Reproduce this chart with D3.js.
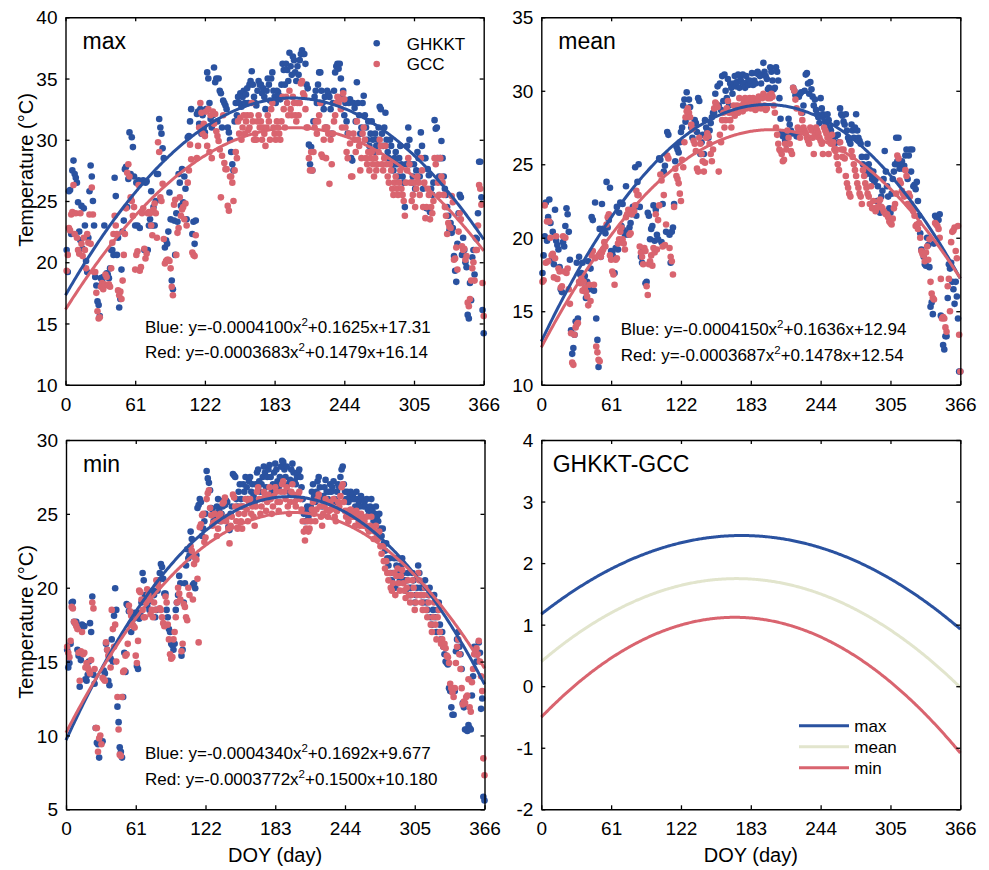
<!DOCTYPE html>
<html><head><meta charset="utf-8">
<script src="https://cdn.jsdelivr.net/npm/d3@7"></script>
<style>
body{margin:0;background:#fff}
svg{display:block}
text{font-family:"Liberation Sans",Arial,Helvetica,sans-serif;fill:#000}
</style>
</head><body>
<svg id="chart" width="989" height="870"></svg>
<script>
// ---------------- DATA ----------------
const days = d3.range(1, 367);
const xTicks = [0, 61, 122, 183, 244, 305, 366];
const yTicksMax = [10, 15, 20, 25, 30, 35, 40];
const yTicksMean = [10, 15, 20, 25, 30, 35];
const yTicksMin = [5, 10, 15, 20, 25, 30];
const yTicksDiff = [-2, -1, 0, 1, 2, 3, 4];
const seriesNames = ["GHKKT", "GCC"];
const diffNames = ["max", "mean", "min"];

const maxGHKKT = [
21.0,19.2,25.8,25.9,22.3,27.5,28.3,27.2,26.9,26.5,
24.9,22.5,21.8,24.6,21.1,24.4,23.0,20.1,19.2,22.0,
25.8,27.9,27.0,25.0,23.0,18.8,18.1,16.8,16.5,15.6,
18.7,18.5,18.8,23.0,18.9,19.1,19.0,18.7,19.5,21.0,
21.0,20.6,26.9,25.4,20.6,22.0,16.3,17.0,19.4,22.5,
23.4,27.6,27.8,24.5,26.8,30.6,27.2,30.2,29.4,27.0,
23.0,26.5,23.0,26.7,22.8,26.5,26.6,26.7,21.0,26.5,
26.6,21.0,23.0,23.5,25.8,23.0,24.5,23.0,25.0,27.2,
27.2,31.7,31.0,30.5,29.3,28.5,21.2,21.8,21.5,22.5,
25.7,23.5,18.5,17.8,23.4,20.6,24.0,23.3,27.2,26.5,
24.6,27.6,24.9,27.0,26.0,23.5,30.2,30.3,31.5,32.5,
22.3,23.3,21.5,23.4,32.1,32.3,31.3,32.5,30.5,32.0,
31.0,30.6,32.5,35.5,35.0,33.0,31.7,31.0,32.0,35.9,
34.7,35.0,31.5,35.0,34.0,33.8,31.0,33.2,33.0,32.8,
32.5,31.0,30.6,30.0,29.0,28.0,27.5,31.5,33.0,32.0,
33.5,33.0,33.8,32.7,33.5,34.0,33.0,33.7,34.2,33.0,
34.5,34.8,35.6,34.5,33.5,33.0,32.8,34.0,34.8,34.5,
34.5,33.8,34.2,33.5,32.5,34.0,35.0,34.5,33.2,35.0,
35.5,34.0,33.5,33.0,34.0,33.9,33.6,33.3,34.5,36.2,
35.7,34.5,36.2,35.7,34.8,37.1,36.0,35.3,36.8,36.5,
35.5,34.8,36.0,35.3,36.5,37.0,37.3,37.0,37.0,36.2,
34.5,34.2,29.6,28.0,29.4,27.5,31.5,33.5,34.0,33.0,
34.5,35.5,35.5,34.0,33.0,32.5,33.5,31.0,34.0,33.8,
33.5,32.5,30.5,33.0,34.0,35.5,36.0,36.2,35.8,36.2,
35.0,33.5,34.0,32.0,33.0,31.5,30.5,33.0,33.3,28.5,
28.3,33.0,32.6,31.5,34.7,33.0,32.0,30.5,31.0,33.0,
33.6,32.0,31.0,30.0,31.5,29.5,30.5,31.5,30.0,29.0,
30.5,29.5,30.0,31.0,32.7,32.5,30.5,29.5,31.0,32.2,
30.0,29.0,28.5,30.0,29.5,28.0,27.5,28.5,29.0,28.0,
27.0,28.5,29.5,28.0,27.0,26.5,24.5,28.0,29.5,31.0,
30.0,28.0,26.5,27.0,28.0,26.0,27.5,29.0,28.5,27.0,
30.6,29.5,26.0,28.5,28.5,24.4,27.6,27.1,24.1,26.0,
25.5,26.5,31.6,30.9,31.0,28.5,27.0,28.5,29.9,28.5,
27.0,26.0,25.5,24.5,23.8,22.6,23.2,22.4,22.8,20.5,
19.3,18.4,21.5,24.0,25.5,25.3,20.6,22.0,21.0,20.0,
19.6,15.7,15.4,18.3,16.9,20.4,21.0,19.0,22.0,21.9,
24.0,28.2,28.2,25.3,16.1,14.2];

const maxGCC = [
19.3,20.6,22.8,22.6,23.9,24.1,26.3,22.3,24.0,22.0,
21.0,20.7,24.0,21.5,20.5,22.0,21.0,19.5,22.3,21.6,
23.9,21.5,26.1,23.9,19.2,19.2,17.5,16.0,15.4,15.5,
18.0,18.3,17.8,18.2,19.0,18.8,18.1,18.2,18.0,19.5,
21.6,22.3,23.8,23.0,22.3,17.7,17.3,17.6,17.0,18.5,
20.6,22.3,24.4,27.3,28.0,27.0,25.3,25.0,23.8,24.5,
19.4,20.6,20.9,26.3,19.3,19.6,24.0,24.4,21.1,20.3,
20.7,24.0,24.1,24.0,23.0,22.2,24.3,24.8,24.0,22.0,
29.8,29.0,25.3,25.0,26.4,21.9,19.9,20.1,20.2,20.2,
20.1,19.5,18.0,17.3,24.7,25.1,20.6,22.4,22.8,25.3,
23.8,24.3,24.5,23.5,24.8,23.0,26.5,27.5,29.6,28.4,
20.8,20.6,20.5,22.2,28.5,29.5,31.0,33.0,32.2,30.5,
31.3,30.3,32.3,29.5,32.5,29.0,32.0,28.5,32.3,31.3,
32.1,30.7,30.3,29.9,29.2,25.3,28.7,32.0,28.1,27.6,
27.6,24.6,24.2,27.0,27.0,26.5,25.0,27.5,29.0,28.5,
31.5,30.5,31.8,30.0,31.0,32.0,30.5,31.5,32.0,30.8,
31.0,32.0,33.0,31.5,30.0,30.5,30.0,31.5,32.0,31.0,
31.5,30.0,31.0,30.5,29.5,31.0,32.0,31.5,30.0,32.5,
33.0,31.0,30.5,30.0,31.5,31.0,30.5,30.0,31.5,33.5,
32.5,31.0,33.5,33.0,32.0,34.0,32.5,32.0,33.5,33.0,
32.0,31.5,33.0,32.0,33.0,34.6,34.8,33.8,33.6,32.5,
31.0,31.0,28.5,27.5,29.0,27.5,29.0,31.0,31.5,30.5,
31.5,32.0,33.0,28.8,28.6,30.0,31.0,28.5,31.0,30.5,
26.4,30.0,28.0,30.5,31.5,32.0,33.0,33.5,33.0,33.3,
32.5,31.0,33.8,33.3,31.0,29.0,28.5,30.5,29.7,27.0,
27.0,30.5,30.0,29.0,31.5,30.0,29.5,27.5,28.5,30.5,
31.0,30.0,28.5,28.0,29.0,27.5,28.5,29.0,28.0,27.0,
28.5,27.5,28.0,29.0,30.0,29.5,28.0,27.5,28.5,29.5,
28.0,27.0,26.5,28.0,27.5,26.0,25.5,26.5,27.0,26.0,
25.5,26.5,27.5,26.0,25.5,25.0,23.8,26.5,27.5,28.5,
28.0,26.5,25.0,25.5,26.5,24.5,26.0,27.0,26.5,25.5,
28.5,27.5,24.5,26.5,23.6,24.5,26.0,25.5,23.5,24.5,
24.0,25.0,28.5,28.0,28.5,26.5,25.5,28.5,27.0,26.5,
25.5,24.5,23.8,22.3,23.2,22.9,22.8,25.4,24.9,20.2,
20.3,21.2,19.4,22.5,24.0,23.5,21.3,21.0,21.1,20.2,
20.5,16.7,16.4,17.0,18.5,19.5,20.0,18.5,21.0,21.0,
23.0,26.3,26.0,24.7,18.3,15.6];

const meanGHKKT = [
17.6,18.8,20.1,22.4,19.8,21.4,22.6,21.0,18.5,20.4,
18.2,21.9,19.8,19.5,19.2,18.0,16.5,16.3,19.7,19.4,
20.8,22.0,21.6,20.4,18.5,13.7,12.1,12.5,13.4,14.3,
18.3,14.5,18.7,17.5,17.6,18.3,17.2,17.4,15.9,17.0,
18.4,16.5,17.9,21.4,21.2,16.4,22.4,14.5,13.05,11.2,
20.6,18.7,22.3,20.6,20.6,20.3,23.8,20.7,21.2,23.4,
19.1,19.0,18.7,17.6,19.3,22.1,19.2,21.7,22.4,20.8,
22.3,20.5,20.2,23.5,20.3,20.2,20.7,21.0,21.6,22.1,
21.9,24.8,21.5,23.8,25.0,22.1,18.7,18.3,19.2,19.1,
16.9,17.0,21.7,21.5,19.9,20.6,20.8,22.2,19.8,21.9,
20.2,19.9,25.4,25.3,19.7,22.3,24.5,24.9,20.4,27.2,
27.0,20.2,18.3,20.4,20.7,22.3,25.2,26.2,26.0,25.8,
26.5,27.2,27.5,29.0,29.4,27.9,29.9,28.2,29.4,28.9,
27.5,26.8,27.4,28.0,27.8,27.2,29.5,29.3,25.7,26.5,
27.0,25.7,28.0,27.5,27.2,26.8,27.3,27.8,28.2,28.5,
28.5,29.8,28.9,30.3,29.0,30.5,28.7,31.0,29.3,31.1,
30.0,29.5,30.8,29.0,30.5,30.2,29.8,30.5,31.0,30.3,
30.6,31.1,30.2,30.8,30.6,31.1,30.5,30.2,31.0,30.6,
30.4,30.7,30.5,31.2,30.4,30.7,30.5,31.2,31.3,31.1,
31.0,30.5,31.1,31.9,31.3,31.0,30.8,30.1,30.2,31.6,
31.3,30.7,30.1,30.2,31.6,31.3,30.7,29.5,28.1,27.1,
26.9,27.1,26.6,26.4,26.9,28.1,27.7,27.3,27.1,30.2,
30.0,29.7,26.9,27.1,29.6,29.8,29.9,28.5,29.0,30.0,
31.1,31.2,30.5,29.8,30.6,30.1,29.6,29.0,29.4,28.7,
28.4,28.2,27.8,29.5,28.8,28.4,28.3,27.9,27.7,28.4,
28.0,27.5,27.3,26.8,26.6,26.4,26.9,27.8,27.0,26.5,
28.8,28.4,28.3,27.9,27.7,28.4,27.3,26.8,26.6,26.4,
27.7,27.3,26.8,27.5,28.4,27.3,26.8,26.6,26.4,25.5,
25.0,24.6,24.3,25.5,26.4,25.0,24.6,24.3,24.0,24.5,
23.8,24.0,22.5,23.5,22.5,21.7,22.8,23.2,24.0,25.9,
24.5,23.5,22.8,22.0,21.7,23.0,24.0,24.5,25.0,26.8,
25.2,26.8,24.7,24.9,25.2,24.7,24.9,25.6,26.0,24.0,
25.6,26.0,24.5,26.0,23.5,23.6,23.3,23.8,22.5,21.5,
20.3,19.2,19.0,18.7,18.2,18.1,20.0,19.5,18.0,15.3,
15.6,14.8,19.6,21.5,21.4,21.3,21.2,21.6,14.7,14.6,
12.7,12.4,13.3,13.3,15.9,18.2,17.9,18.3,17.0,16.5,
15.5,17.0,16.0,14.5,10.9,10.9];

const meanGCC = [
17.0,17.1,22.2,18.3,21.1,18.4,21.1,20.0,18.8,18.9,
17.3,18.6,20.1,17.2,17.9,17.7,16.6,16.7,20.1,17.7,
20.0,17.6,17.9,16.5,15.5,13.5,11.5,11.35,13.4,13.9,
14.1,14.2,17.0,16.9,17.2,16.4,17.0,16.6,16.3,16.0,
15.4,16.8,15.7,18.8,19.1,16.8,18.6,12.6,12.2,11.7,
11.6,18.7,19.0,19.2,19.7,19.4,20.9,21.4,21.6,18.8,
18.5,17.7,17.5,16.8,18.5,18.6,19.6,19.9,20.4,20.7,
19.9,19.6,19.2,21.4,21.6,21.9,20.2,20.3,21.6,21.9,
21.8,22.2,23.2,22.9,22.9,19.4,19.0,18.7,18.2,19.3,
19.1,16.7,16.1,18.2,18.4,18.8,18.1,19.3,19.0,21.6,
19.2,21.2,22.2,24.3,23.9,19.4,22.9,19.5,20.9,25.6,
25.4,19.3,18.7,18.4,17.5,22.1,24.7,24.2,24.0,23.7,
23.0,22.5,25.3,24.8,26.5,28.2,28.6,28.8,28.5,28.2,
27.7,27.4,26.6,26.4,25.9,24.7,24.5,26.8,26.4,25.7,
25.2,24.5,25.1,26.8,27.1,26.9,26.4,25.7,25.2,26.0,
28.8,29.2,29.1,28.9,24.5,27.0,26.5,28.0,28.5,27.5,
28.0,28.8,29.3,28.5,28.0,27.5,28.5,29.0,28.3,28.7,
29.0,28.5,29.5,28.7,29.0,28.6,29.2,29.5,28.8,29.3,
29.0,29.5,28.8,29.2,29.5,29.0,28.7,28.8,29.3,29.6,
29.0,28.8,29.5,29.8,29.0,28.7,28.8,29.5,29.7,29.5,
29.8,29.6,29.0,28.5,27.5,27.0,26.4,26.0,25.9,25.7,
25.2,25.3,26.4,26.0,27.3,26.8,26.4,25.9,25.7,30.2,
30.0,29.4,28.8,27.5,27.3,26.8,28.5,28.0,27.5,27.3,
27.1,26.8,26.6,26.4,27.5,27.3,26.8,25.7,27.0,27.5,
27.3,27.1,26.8,26.6,26.4,25.7,27.5,27.3,27.1,26.8,
25.7,26.6,26.4,27.0,26.5,26.0,25.9,25.5,25.0,24.6,
26.5,26.0,25.5,26.0,25.4,24.2,23.7,23.4,23.0,22.8,
25.9,25.5,25.0,24.6,24.2,23.7,23.4,23.0,22.8,22.3,
24.6,24.2,23.7,23.4,23.0,22.8,22.3,23.5,22.0,22.5,
22.0,21.8,22.0,22.1,22.5,22.6,22.1,22.0,21.8,21.7,
21.6,21.6,21.4,21.1,21.0,20.9,21.3,22.0,22.3,23.0,
25.6,25.4,23.9,23.7,23.2,23.0,22.8,24.6,24.2,22.3,
23.0,22.8,22.3,22.1,21.8,21.5,20.8,20.9,20.6,21.0,
20.0,19.1,18.9,18.8,18.4,19.0,19.4,18.5,19.9,17.0,
16.2,15.9,15.8,21.0,20.9,20.8,20.6,20.0,17.2,14.5,
14.6,14.5,13.9,13.6,16.7,17.2,15.0,19.7,20.4,20.5,
20.7,19.1,18.6,20.8,13.4,10.9];

const minGHKKT = [
15.8,14.6,14.9,16.2,19.0,19.05,17.7,17.6,17.7,15.8,
15.4,13.3,15.1,17.5,17.4,17.4,13.8,13.7,14.1,15.0,
17.6,17.0,19.4,14.1,13.5,10.5,9.5,9.4,8.5,9.6,
9.5,9.6,14.4,14.2,16.2,15.8,13.7,13.4,15.2,16.5,
15.0,18.1,19.96,18.5,11.95,10.9,9.2,8.9,8.5,12.6,
15.6,14.3,18.9,18.8,18.4,17.5,17.0,17.5,17.9,18.3,
18.0,14.7,14.5,17.9,18.3,19.0,21.0,20.5,19.5,19.0,
18.8,19.2,18.5,19.1,19.5,19.8,19.5,18.0,18.5,19.8,
20.5,21.0,21.6,21.4,20.6,19.6,19.6,18.5,18.0,17.2,
17.0,16.2,16.1,15.8,16.2,18.5,19.0,19.5,20.8,20.3,
15.4,15.8,19.0,20.3,21.5,22.6,22.0,22.2,23.8,23.3,
20.2,20.3,19.96,22.2,25.4,25.6,26.0,25.8,23.5,24.0,
24.5,25.0,27.9,27.4,27.1,26.6,25.4,25.3,24.5,24.8,
25.0,25.5,26.0,25.2,24.5,25.0,25.5,25.9,25.6,25.9,
25.8,24.1,23.9,25.0,25.5,27.7,27.6,27.5,26.0,25.5,
26.5,27.0,26.0,25.5,27.0,26.5,27.5,26.8,26.0,27.2,
27.5,26.5,27.0,26.2,25.8,27.0,27.8,28.0,27.2,26.5,
27.0,27.5,28.2,27.8,26.8,27.5,28.0,28.3,27.5,26.5,
27.0,27.8,28.4,28.0,27.2,26.8,27.5,28.2,28.6,28.5,
28.0,27.5,28.2,27.0,26.5,27.3,28.0,28.4,27.8,27.2,
27.0,27.5,27.8,28.0,27.5,26.8,26.0,25.0,24.5,25.2,
25.5,24.8,25.0,25.5,26.5,27.0,26.2,25.8,26.5,27.2,
27.5,26.8,26.0,25.5,26.2,26.8,27.3,26.5,26.0,26.5,
27.0,26.5,26.8,27.2,26.0,25.8,26.5,27.0,26.8,27.5,
28.0,28.2,27.0,26.5,26.0,26.5,25.8,26.2,26.5,26.0,
26.3,26.0,25.5,26.5,26.0,25.8,25.5,26.2,26.0,25.5,
25.8,25.5,26.0,25.3,25.0,25.5,26.0,25.2,24.5,25.0,
25.5,24.8,24.5,25.0,24.0,23.5,24.0,23.0,22.5,23.0,
22.0,21.5,22.0,21.0,20.5,21.0,22.0,20.0,21.5,22.0,
21.0,20.5,21.5,22.0,21.0,20.5,19.8,20.5,21.0,20.0,
19.5,20.0,21.0,20.5,19.0,19.5,20.0,21.5,21.0,20.0,
19.5,19.0,20.0,20.5,19.0,18.5,19.5,20.0,18.0,17.5,
18.5,19.5,18.0,17.0,18.5,19.0,17.5,16.5,17.0,16.0,
15.5,15.0,14.9,14.8,13.2,13.0,11.9,11.4,11.4,13.0,
15.7,16.5,17.0,16.0,15.5,14.5,12.2,11.9,10.4,10.4,
10.3,10.7,10.5,10.4,12.7,14.0,16.0,15.5,15.0,15.6,
16.3,15.6,11.8,12.5,5.85,5.6];

const minGCC = [
16.0,15.6,15.3,16.4,18.7,18.6,17.7,17.6,17.4,17.2,
15.6,13.7,15.7,17.0,15.5,15.6,14.6,14.9,14.6,14.4,
14.2,15.1,19.0,18.6,14.5,10.5,10.5,8.9,9.8,10.0,
9.4,13.9,13.8,13.7,16.3,15.8,15.4,15.5,14.6,18.5,
17.2,16.0,17.5,15.0,12.6,10.4,8.7,8.6,12.6,14.3,
14.4,15.4,15.5,16.2,18.8,18.4,18.1,17.5,17.4,17.3,
15.4,14.9,16.4,19.8,19.7,19.2,18.5,18.0,18.0,19.0,
19.9,19.5,19.2,18.2,18.5,18.0,19.0,18.5,20.5,20.3,
20.1,18.6,18.5,18.0,17.6,17.4,19.4,19.0,17.5,16.5,
15.5,15.2,15.3,16.5,17.0,18.0,19.0,20.0,19.6,19.2,
15.7,16.2,18.9,18.7,18.0,17.8,20.0,19.5,22.8,22.5,
19.2,21.6,22.0,21.9,20.6,16.3,24.1,24.3,24.9,25.0,
23.1,23.4,26.0,26.4,26.6,25.4,24.9,24.2,24.4,25.0,
24.5,23.5,24.0,24.8,25.0,24.5,25.7,25.8,26.1,24.5,
24.8,24.0,23.0,24.2,24.8,26.3,26.1,25.5,24.5,24.0,
25.0,25.5,24.5,24.0,25.5,25.0,26.0,25.3,24.5,25.8,
26.0,25.0,25.5,24.8,24.2,25.5,26.5,26.8,26.0,25.0,
25.5,26.0,26.5,26.2,25.2,25.8,26.3,26.8,26.0,25.0,
25.5,26.2,26.8,26.5,25.8,25.2,25.8,26.5,27.0,27.2,
26.5,26.0,26.8,25.5,25.0,25.8,26.5,27.0,26.3,25.8,
25.5,26.0,26.3,26.5,26.0,25.3,24.5,23.8,23.2,24.0,
24.5,23.8,24.0,24.5,25.3,25.8,25.0,24.5,25.3,26.0,
26.3,25.5,24.8,24.2,25.0,25.5,26.0,25.3,24.8,25.2,
25.8,25.3,25.5,26.0,24.8,24.5,25.2,25.8,25.5,26.2,
26.8,27.0,25.8,25.2,24.8,25.2,24.5,25.0,25.3,24.8,
25.0,24.8,24.2,25.2,24.8,24.5,24.2,25.0,24.8,24.2,
24.5,24.2,24.8,24.0,23.8,24.2,24.8,24.0,23.3,23.8,
24.2,23.5,23.3,23.8,22.8,22.3,22.8,21.8,21.3,21.8,
21.0,20.5,21.0,20.0,19.8,20.3,21.0,19.5,20.8,21.3,
20.3,19.8,20.8,21.2,20.3,19.8,19.3,20.0,20.5,19.5,
19.0,19.5,20.5,20.0,18.5,19.0,19.5,21.0,20.5,19.5,
19.0,18.5,19.5,20.0,18.5,18.0,19.0,19.5,17.5,17.0,
18.0,19.0,17.5,16.5,18.0,18.5,17.0,16.2,16.5,16.0,
16.2,15.9,15.4,15.3,14.9,13.5,13.2,12.9,12.6,13.2,
14.9,16.0,16.5,15.5,14.5,13.2,12.1,12.3,12.2,12.6,
12.7,13.8,11.9,11.6,13.6,14.5,15.5,15.6,15.9,15.5,
16.4,15.0,14.0,13.0,8.45,7.3];

// fitted quadratic coefficients [a, b, c]  (y = a x^2 + b x + c), as printed in the chart
const fitMaxGHKKT = [-0.0004100, 0.1625, 17.31];
const fitMaxGCC   = [-0.0003683, 0.1479, 16.14];
const fitMeanGHKKT = [-0.0004150, 0.1636, 12.94];
const fitMeanGCC   = [-0.0003687, 0.1478, 12.54];
const fitMinGHKKT = [-0.0004340, 0.1692, 9.677];
const fitMinGCC   = [-0.0003772, 0.1500, 10.180];

const eqMax  = [["Blue: y=-0.0004100x", "+0.1625x+17.31"], ["Red: y=-0.0003683x", "+0.1479x+16.14"]];
const eqMean = [["Blue: y=-0.0004150x", "+0.1636x+12.94"], ["Red: y=-0.0003687x", "+0.1478x+12.54"]];
const eqMin  = [["Blue: y=-0.0004340x", "+0.1692x+9.677"], ["Red: y=-0.0003772x", "+0.1500x+10.180"]];

// ---------------- STYLE ----------------
const BLUE = "#2a52a0", RED = "#d9646f", MEANC = "#e2e5cd";
const curveDays = d3.range(0, 367, 1);
const quad = (c, x) => c[0]*x*x + c[1]*x + c[2];

const svg = d3.select("#chart");

function frame(g, x, y, yTicks) {
  const [x0, x1] = x.range(), [yb, yt] = y.range();
  const ax = [
    g.append("g").attr("transform", `translate(0,${yb})`).call(d3.axisBottom(x).tickValues(xTicks).tickSizeInner(-4).tickSizeOuter(0)),
    g.append("g").attr("transform", `translate(0,${yt})`).call(d3.axisTop(x).tickValues(xTicks).tickSizeInner(-4).tickSizeOuter(0).tickFormat("")),
    g.append("g").attr("transform", `translate(${x0},0)`).call(d3.axisLeft(y).tickValues(yTicks).tickSizeInner(-4).tickSizeOuter(0).tickPadding(8).tickFormat(d => String(d))),
    g.append("g").attr("transform", `translate(${x1},0)`).call(d3.axisRight(y).tickValues(yTicks).tickSizeInner(-4).tickSizeOuter(0).tickFormat(""))
  ];
  ax.forEach(a => {
    a.select(".domain").attr("stroke", "#000").attr("stroke-width", 1.4);
    a.selectAll(".tick line").attr("stroke", "#000").attr("stroke-width", 1.3);
    a.attr("font-family", null).attr("font-size", null);
  });
  ax[0].selectAll("text").attr("y", 26).attr("dy", null).attr("font-size", 19);
  ax[2].selectAll("text").attr("font-size", 19).attr("dy", "0.35em");
}

function scatterPanel(opt) {
  const g = svg.append("g");
  const x = d3.scaleLinear().domain([0, 366]).range([opt.x0, opt.x1]);
  const y = d3.scaleLinear().domain(opt.ydom).range([opt.yBottom, opt.yTop]);
  const cols = [BLUE, RED];
  opt.series.forEach((s, i) => {
    g.append("g").selectAll("circle").data(days).join("circle")
      .attr("cx", d => x(d)).attr("cy", d => y(s[d-1])).attr("r", 3.3)
      .attr("fill", cols[i]);
  });
  opt.fits.forEach((c, i) => {
    g.append("path").datum(curveDays)
      .attr("d", d3.line().x(d => x(d)).y(d => y(quad(c, d))))
      .attr("fill", "none").attr("stroke", cols[i]).attr("stroke-width", 3);
  });
  frame(g, x, y, opt.yticks);
  g.append("text").attr("x", opt.x0 + 17).attr("y", opt.yTop + 32).attr("font-size", 23).text(opt.title);
  opt.eq.forEach((e, i) => {
    const t = g.append("text").attr("x", opt.eqx).attr("y", opt.eqy + i*25.5).attr("font-size", 17);
    t.append("tspan").text(e[0]);
    t.append("tspan").attr("dy", -7).attr("font-size", 11.5).text("2");
    t.append("tspan").attr("dy", 7).attr("font-size", 17).text(e[1]);
  });
  return {g, x, y};
}

const p1 = scatterPanel({series:[maxGHKKT, maxGCC], fits:[fitMaxGHKKT, fitMaxGCC], x0:65.5, x1:483.7, yTop:17.3, yBottom:384.7,
  ydom:[10,40], yticks:yTicksMax, title:"max", eq:eqMax, eqx:145, eqy:332.7});
const p2 = scatterPanel({series:[meanGHKKT, meanGCC], fits:[fitMeanGHKKT, fitMeanGCC], x0:541.3, x1:960.3, yTop:17.3, yBottom:384.7,
  ydom:[10,35], yticks:yTicksMean, title:"mean", eq:eqMean, eqx:620.7, eqy:335});
const p3 = scatterPanel({series:[minGHKKT, minGCC], fits:[fitMinGHKKT, fitMinGCC], x0:66, x1:484.5, yTop:440, yBottom:809.3,
  ydom:[5,30], yticks:yTicksMin, title:"min", eq:eqMin, eqx:145, eqy:759});

// legend in panel 1
[0,1].forEach(i => {
  p1.g.append("circle").attr("cx", 376.7).attr("cy", 43.3 + i*20.7).attr("r", 3.3).attr("fill", [BLUE, RED][i]);
  p1.g.append("text").attr("x", 406.7).attr("y", 49.5 + i*20.7).attr("font-size", 17).text(seriesNames[i]);
});

// panel 4: differences of the fitted curves
{
  const g = svg.append("g");
  const x = d3.scaleLinear().domain([0, 366]).range([541.3, 960.3]);
  const y = d3.scaleLinear().domain([-2, 4]).range([809.3, 440]);
  const pairs = [[fitMaxGHKKT, fitMaxGCC], [fitMeanGHKKT, fitMeanGCC], [fitMinGHKKT, fitMinGCC]];
  const cols = [BLUE, MEANC, RED];
  pairs.forEach((p, i) => {
    g.append("path").datum(curveDays)
      .attr("d", d3.line().x(d => x(d)).y(d => y(quad(p[0], d) - quad(p[1], d))))
      .attr("fill", "none").attr("stroke", cols[i]).attr("stroke-width", 3);
  });
  frame(g, x, y, yTicksDiff);
  g.append("text").attr("x", 552.7).attr("y", 472).attr("font-size", 23).text("GHKKT-GCC");
  diffNames.forEach((n, i) => {
    g.append("line").attr("x1", 799).attr("x2", 849).attr("y1", 725.7 + i*21).attr("y2", 725.7 + i*21)
      .attr("stroke", cols[i]).attr("stroke-width", 3);
    g.append("text").attr("x", 854.3).attr("y", 731.5 + i*21).attr("font-size", 17).text(n);
  });
}

// axis titles
svg.append("text").attr("transform", "translate(33,170) rotate(-90)").attr("text-anchor", "middle").attr("font-size", 20).text("Temperature (°C)");
svg.append("text").attr("transform", "translate(33,622) rotate(-90)").attr("text-anchor", "middle").attr("font-size", 20).text("Temperature (°C)");
svg.append("text").attr("x", 275).attr("y", 861.5).attr("text-anchor", "middle").attr("font-size", 20).text("DOY (day)");
svg.append("text").attr("x", 750.8).attr("y", 861.5).attr("text-anchor", "middle").attr("font-size", 20).text("DOY (day)");
</script>
</body></html>
